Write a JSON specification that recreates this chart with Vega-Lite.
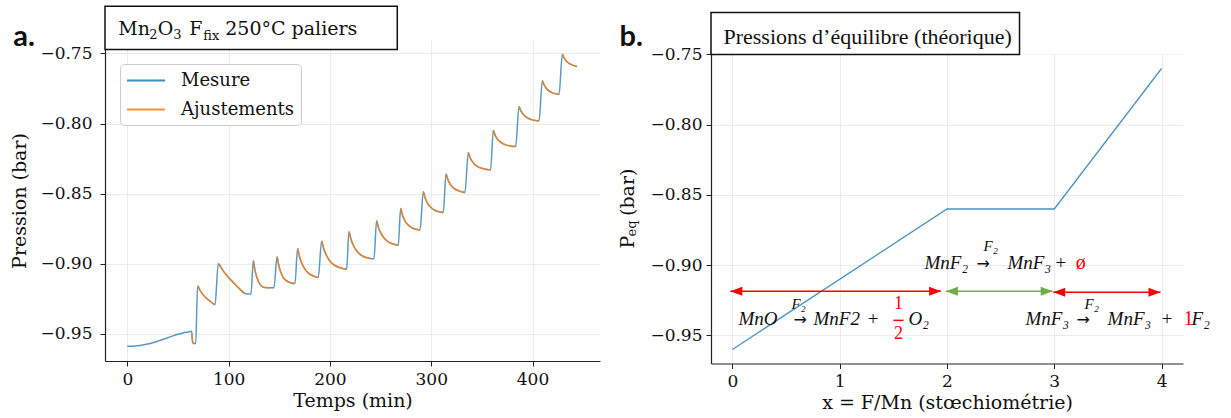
{
  "$schema": "https://vega.github.io/schema/vega-lite/v6.json",
  "background": "white",
  "padding": {"left": 10, "top": 5, "right": 5, "bottom": 5},
  "autosize": {"type": "pad"},
  "spacing": 18,
  "resolve": {"scale": {"x": "independent", "y": "independent", "color": "independent"}, "legend": {"color": "independent"}},
  "datasets": {
    "un": [{}],
    "mesure": [
      {"t":0,"p":-0.9588},{"t":5,"p":-0.9587},{"t":10,"p":-0.9584},{"t":15,"p":-0.9579},{"t":20,"p":-0.9572},{"t":25,"p":-0.9563},{"t":30,"p":-0.9552},{"t":35,"p":-0.954},{"t":40,"p":-0.9527},{"t":45,"p":-0.9514},{"t":50,"p":-0.9502},{"t":55,"p":-0.9493},{"t":60,"p":-0.9486},{"t":63.5,"p":-0.9481},{"t":64.5,"p":-0.9555},{"t":65.5,"p":-0.9569},{"t":67.5,"p":-0.9568},
      {"t":69.4,"p":-0.9159},{"t":72.4,"p":-0.9196},{"t":75.4,"p":-0.9225},{"t":78.4,"p":-0.9247},{"t":81.4,"p":-0.9265},{"t":86.6,"p":-0.9291},
      {"t":89.8,"p":-0.9},{"t":95,"p":-0.9054},{"t":100,"p":-0.9097},{"t":105,"p":-0.9136},{"t":110,"p":-0.9173},{"t":116.2,"p":-0.9212},{"t":122.1,"p":-0.9216},
      {"t":124.4,"p":-0.8979},{"t":126,"p":-0.9045},{"t":128,"p":-0.9098},{"t":130,"p":-0.9135},{"t":132.6,"p":-0.916},{"t":136,"p":-0.9169},{"t":144.8,"p":-0.9171},
      {"t":147.8,"p":-0.895},{"t":149.5,"p":-0.901},{"t":151.5,"p":-0.906},{"t":154,"p":-0.9098},{"t":157,"p":-0.912},{"t":161,"p":-0.9135},{"t":165.5,"p":-0.9141},
      {"t":168.1,"p":-0.8891},{"t":170,"p":-0.895},{"t":172.5,"p":-0.9},{"t":175.5,"p":-0.904},{"t":179,"p":-0.9068},{"t":183.5,"p":-0.9086},{"t":188.5,"p":-0.9098},
      {"t":191.8,"p":-0.8838},{"t":194,"p":-0.8895},{"t":197,"p":-0.8945},{"t":200.5,"p":-0.8985},{"t":205,"p":-0.9012},{"t":210,"p":-0.9028},{"t":216.5,"p":-0.9038},
      {"t":218.8,"p":-0.8771},{"t":221,"p":-0.883},{"t":224,"p":-0.888},{"t":227.5,"p":-0.8918},{"t":231.5,"p":-0.8942},{"t":235.5,"p":-0.8955},{"t":239.6,"p":-0.8962},{"t":243.5,"p":-0.8964},
      {"t":246.1,"p":-0.8693},{"t":248,"p":-0.8745},{"t":251,"p":-0.879},{"t":254.5,"p":-0.8825},{"t":258.5,"p":-0.8847},{"t":263,"p":-0.886},{"t":267.5,"p":-0.8867},
      {"t":269.8,"p":-0.8605},{"t":271.5,"p":-0.865},{"t":274,"p":-0.8693},{"t":277.5,"p":-0.8725},{"t":281.5,"p":-0.8745},{"t":285,"p":-0.8754},{"t":288.9,"p":-0.8759},
      {"t":292.2,"p":-0.8486},{"t":294,"p":-0.853},{"t":296.5,"p":-0.857},{"t":300,"p":-0.86},{"t":304,"p":-0.862},{"t":308,"p":-0.8629},{"t":311.9,"p":-0.8634},
      {"t":314.6,"p":-0.8359},{"t":316.5,"p":-0.84},{"t":319,"p":-0.8435},{"t":322.5,"p":-0.8462},{"t":326.5,"p":-0.8478},{"t":330,"p":-0.8486},{"t":333.3,"p":-0.8491},
      {"t":336.6,"p":-0.8207},{"t":338.5,"p":-0.8245},{"t":341.5,"p":-0.828},{"t":345,"p":-0.8303},{"t":349,"p":-0.8317},{"t":353.5,"p":-0.8325},{"t":358.6,"p":-0.8329},
      {"t":361.3,"p":-0.8048},{"t":363,"p":-0.8082},{"t":366,"p":-0.8115},{"t":369.5,"p":-0.8138},{"t":373.5,"p":-0.8152},{"t":378,"p":-0.816},{"t":383.3,"p":-0.8164},
      {"t":386.7,"p":-0.7879},{"t":388.5,"p":-0.791},{"t":391.5,"p":-0.794},{"t":395,"p":-0.796},{"t":399,"p":-0.7972},{"t":403,"p":-0.7978},{"t":406.4,"p":-0.7981},
      {"t":409.7,"p":-0.7695},{"t":411.5,"p":-0.7725},{"t":414,"p":-0.7752},{"t":417,"p":-0.7771},{"t":420.5,"p":-0.7783},{"t":424,"p":-0.7789},{"t":426.2,"p":-0.7791},
      {"t":429.4,"p":-0.7505},{"t":431,"p":-0.753},{"t":433.5,"p":-0.7555},{"t":436.5,"p":-0.7573},{"t":440,"p":-0.7585},{"t":443.9,"p":-0.7593}
    ],
    "ajust": [
      {"k":0,"t":63.6,"p":-0.9495},{"k":0,"t":64.6,"p":-0.956},{"k":0,"t":65.8,"p":-0.957},
      {"k":1,"t":69.4,"p":-0.9159},{"k":1,"t":72.4,"p":-0.9196},{"k":1,"t":75.4,"p":-0.9225},{"k":1,"t":78.4,"p":-0.9247},{"k":1,"t":81.4,"p":-0.9265},{"k":1,"t":86.6,"p":-0.9291},
      {"k":2,"t":89.8,"p":-0.9},{"k":2,"t":95,"p":-0.9054},{"k":2,"t":100,"p":-0.9097},{"k":2,"t":105,"p":-0.9136},{"k":2,"t":110,"p":-0.9173},{"k":2,"t":116.2,"p":-0.9212},
      {"k":3,"t":124.4,"p":-0.8979},{"k":3,"t":126,"p":-0.9045},{"k":3,"t":128,"p":-0.9098},{"k":3,"t":130,"p":-0.9135},{"k":3,"t":132.6,"p":-0.916},{"k":3,"t":136,"p":-0.9169},{"k":3,"t":141,"p":-0.9171},
      {"k":4,"t":147.8,"p":-0.895},{"k":4,"t":149.5,"p":-0.901},{"k":4,"t":151.5,"p":-0.906},{"k":4,"t":154,"p":-0.9098},{"k":4,"t":157,"p":-0.912},{"k":4,"t":161,"p":-0.9135},{"k":4,"t":165,"p":-0.9141},
      {"k":5,"t":168.1,"p":-0.8891},{"k":5,"t":170,"p":-0.895},{"k":5,"t":172.5,"p":-0.9},{"k":5,"t":175.5,"p":-0.904},{"k":5,"t":179,"p":-0.9068},{"k":5,"t":183.5,"p":-0.9086},{"k":5,"t":188.5,"p":-0.9098},
      {"k":6,"t":191.8,"p":-0.8838},{"k":6,"t":194,"p":-0.8895},{"k":6,"t":197,"p":-0.8945},{"k":6,"t":200.5,"p":-0.8985},{"k":6,"t":205,"p":-0.9012},{"k":6,"t":210,"p":-0.9028},{"k":6,"t":216,"p":-0.9038},
      {"k":7,"t":218.8,"p":-0.8771},{"k":7,"t":221,"p":-0.883},{"k":7,"t":224,"p":-0.888},{"k":7,"t":227.5,"p":-0.8918},{"k":7,"t":231.5,"p":-0.8942},{"k":7,"t":235.5,"p":-0.8955},{"k":7,"t":239.6,"p":-0.8962},
      {"k":8,"t":246.1,"p":-0.8693},{"k":8,"t":248,"p":-0.8745},{"k":8,"t":251,"p":-0.879},{"k":8,"t":254.5,"p":-0.8825},{"k":8,"t":258.5,"p":-0.8847},{"k":8,"t":263,"p":-0.886},{"k":8,"t":267.5,"p":-0.8867},
      {"k":9,"t":269.8,"p":-0.8605},{"k":9,"t":271.5,"p":-0.865},{"k":9,"t":274,"p":-0.8693},{"k":9,"t":277.5,"p":-0.8725},{"k":9,"t":281.5,"p":-0.8745},{"k":9,"t":285,"p":-0.8754},{"k":9,"t":288.9,"p":-0.8759},
      {"k":10,"t":292.2,"p":-0.8486},{"k":10,"t":294,"p":-0.853},{"k":10,"t":296.5,"p":-0.857},{"k":10,"t":300,"p":-0.86},{"k":10,"t":304,"p":-0.862},{"k":10,"t":308,"p":-0.8629},{"k":10,"t":311.9,"p":-0.8634},
      {"k":11,"t":314.6,"p":-0.8359},{"k":11,"t":316.5,"p":-0.84},{"k":11,"t":319,"p":-0.8435},{"k":11,"t":322.5,"p":-0.8462},{"k":11,"t":326.5,"p":-0.8478},{"k":11,"t":330,"p":-0.8486},{"k":11,"t":333.3,"p":-0.8491},
      {"k":12,"t":336.6,"p":-0.8207},{"k":12,"t":338.5,"p":-0.8245},{"k":12,"t":341.5,"p":-0.828},{"k":12,"t":345,"p":-0.8303},{"k":12,"t":349,"p":-0.8317},{"k":12,"t":353.5,"p":-0.8325},{"k":12,"t":358.6,"p":-0.8329},
      {"k":13,"t":361.3,"p":-0.8048},{"k":13,"t":363,"p":-0.8082},{"k":13,"t":366,"p":-0.8115},{"k":13,"t":369.5,"p":-0.8138},{"k":13,"t":373.5,"p":-0.8152},{"k":13,"t":378,"p":-0.816},{"k":13,"t":383.3,"p":-0.8164},
      {"k":14,"t":386.7,"p":-0.7879},{"k":14,"t":388.5,"p":-0.791},{"k":14,"t":391.5,"p":-0.794},{"k":14,"t":395,"p":-0.796},{"k":14,"t":399,"p":-0.7972},{"k":14,"t":403,"p":-0.7978},{"k":14,"t":406.4,"p":-0.7981},
      {"k":15,"t":409.7,"p":-0.7695},{"k":15,"t":411.5,"p":-0.7725},{"k":15,"t":414,"p":-0.7752},{"k":15,"t":417,"p":-0.7771},{"k":15,"t":420.5,"p":-0.7783},{"k":15,"t":424,"p":-0.7789},{"k":15,"t":426.2,"p":-0.7791},
      {"k":16,"t":429.4,"p":-0.7505},{"k":16,"t":431,"p":-0.753},{"k":16,"t":433.5,"p":-0.7555},{"k":16,"t":436.5,"p":-0.7573},{"k":16,"t":440,"p":-0.7585},{"k":16,"t":443.9,"p":-0.7593}
    ],
    "titreGrand": [
      {"x":-8.9,"y":-0.7371,"txt":"Mn"},
      {"x":30.1,"y":-0.7371,"txt":"O"},
      {"x":61.2,"y":-0.7371,"txt":"F"},
      {"x":96.7,"y":-0.7371,"txt":"250°C paliers"}
    ],
    "titrePetit": [
      {"x":21.7,"y":-0.7398,"txt":"2"},
      {"x":45.4,"y":-0.7398,"txt":"3"},
      {"x":75,"y":-0.7405,"txt":"fix"}
    ],
    "theorie": [
      {"x":0,"p":-0.96},{"x":2,"p":-0.86},{"x":3,"p":-0.86},{"x":4,"p":-0.76}
    ],
    "fleches": [
      {"etape":"MnO","a":-0.02,"b":1.945,"y":-0.9186},
      {"etape":"MnF2","a":1.99,"b":2.985,"y":-0.9186},
      {"etape":"MnF3","a":2.99,"b":3.99,"y":-0.9192}
    ],
    "eqNoir": [
      {"x":0.056,"y":-0.9429,"txt":"MnO"},
      {"x":0.755,"y":-0.9429,"txt":"MnF2"},
      {"x":1.249,"y":-0.9429,"txt":"+"},
      {"x":1.641,"y":-0.9429,"txt":"O₂"},
      {"x":1.79,"y":-0.903,"txt":"MnF₂"},
      {"x":2.564,"y":-0.903,"txt":"MnF₃"},
      {"x":3.0,"y":-0.903,"txt":"+"},
      {"x":2.732,"y":-0.9429,"txt":"MnF₃"},
      {"x":3.497,"y":-0.9429,"txt":"MnF₃"},
      {"x":3.991,"y":-0.9429,"txt":"+"},
      {"x":4.28,"y":-0.9429,"txt":"F₂"}
    ],
    "reactionFleche": [
      {"x":0.569,"y":-0.9429,"txt":"→"},
      {"x":2.275,"y":-0.903,"txt":"→"},
      {"x":3.207,"y":-0.9429,"txt":"→"}
    ],
    "eqPetit": [
      {"x":0.55,"y":-0.9315,"txt":"F₂"},
      {"x":2.34,"y":-0.8902,"txt":"F₂"},
      {"x":3.282,"y":-0.9315,"txt":"F₂"}
    ],
    "eqRouge": [
      {"x":3.2,"y":-0.903,"txt":"ø"},
      {"x":4.205,"y":-0.9429,"txt":"1"}
    ],
    "fraction": [
      {"x":1.548,"y":-0.9315,"txt":"1"},
      {"x":1.548,"y":-0.9528,"txt":"2"}
    ]
  },
  "config": {
    "font": "DejaVu Serif",
    "view": {"stroke": null},
    "axis": {
      "domainColor": "#222222",
      "domainWidth": 1.2,
      "tickColor": "#222222",
      "tickSize": 5,
      "tickWidth": 1,
      "gridColor": "#e6e6e6",
      "gridWidth": 0.8,
      "labelFont": "DejaVu Serif",
      "labelFontSize": 17,
      "labelColor": "#111111",
      "titleFont": "DejaVu Serif",
      "titleFontSize": 19,
      "titleFontWeight": "normal",
      "titleColor": "#111111",
      "labelPadding": 4
    },
    "text": {"font": "DejaVu Serif", "color": "#111111"}
  },
  "hconcat": [
    {
      "width": 495,
      "height": 321,
      "layer": [
        {
          "data": {"name": "mesure"},
          "mark": {"type": "line", "strokeWidth": 1.5, "opacity": 0.75, "interpolate": "monotone"},
          "encoding": {
            "x": {"field": "t", "type": "quantitative", "scale": {"domain": [-22, 466.6], "nice": false, "zero": false},
                  "axis": {"values": [0, 100, 200, 300, 400], "title": "Temps (min)", "labelPadding": 5, "titlePadding": 4}},
            "y": {"field": "p", "type": "quantitative", "scale": {"domain": [-0.9693, -0.7404], "nice": false, "zero": false},
                  "axis": {"values": [-0.95, -0.9, -0.85, -0.8, -0.75], "format": ".2f", "title": "Pression (bar)", "labelPadding": 8, "titlePadding": 10}},
            "color": {"datum": "Mesure", "type": "nominal",
                      "scale": {"domain": ["Mesure", "Ajustements"], "range": ["#1f77b4", "#ff7f0e"]},
                      "legend": {"title": null, "orient": "none", "legendX": 15, "legendY": 24, "symbolType": "M-1,0H3", "symbolSize": 361, "symbolStrokeWidth": 2, "symbolOpacity": 1, "labelFont": "DejaVu Serif", "labelFontSize": 18, "labelColor": "#111111", "labelOffset": 34, "rowPadding": 9, "padding": 6, "fillColor": "white", "strokeColor": "#cccccc", "cornerRadius": 4}}
          }
        },
        {
          "data": {"name": "ajust"},
          "mark": {"type": "line", "strokeWidth": 1.5, "opacity": 0.85, "interpolate": "monotone"},
          "encoding": {
            "x": {"field": "t", "type": "quantitative"},
            "y": {"field": "p", "type": "quantitative"},
            "detail": {"field": "k", "type": "nominal"},
            "color": {"datum": "Ajustements", "type": "nominal"}
          }
        },
        {
          "data": {"name": "un"},
          "mark": {"type": "rect", "fill": "white", "stroke": "#111111", "strokeWidth": 1.5},
          "encoding": {
            "x": {"datum": -22}, "x2": {"datum": 266.5},
            "y": {"datum": -0.7471}, "y2": {"datum": -0.7164}
          }
        },
        {
          "data": {"name": "titreGrand"},
          "mark": {"type": "text", "align": "left", "baseline": "alphabetic", "fontSize": 19},
          "encoding": {"x": {"field": "x", "type": "quantitative"}, "y": {"field": "y", "type": "quantitative"}, "text": {"field": "txt"}}
        },
        {
          "data": {"name": "titrePetit"},
          "mark": {"type": "text", "align": "left", "baseline": "alphabetic", "fontSize": 13},
          "encoding": {"x": {"field": "x", "type": "quantitative"}, "y": {"field": "y", "type": "quantitative"}, "text": {"field": "txt"}}
        },
        {
          "data": {"name": "un"},
          "mark": {"type": "text", "text": "a.", "align": "left", "baseline": "alphabetic", "font": "Lato", "fontWeight": "bold", "fontSize": 29},
          "encoding": {"x": {"datum": -112.5}, "y": {"datum": -0.745}}
        }
      ]
    },
    {
      "width": 472,
      "height": 323.5,
      "layer": [
        {
          "data": {"name": "theorie"},
          "mark": {"type": "line", "strokeWidth": 1.3, "color": "#1f77b4", "opacity": 0.8},
          "encoding": {
            "x": {"field": "x", "type": "quantitative", "scale": {"domain": [-0.2, 4.2], "nice": false, "zero": false},
                  "axis": {"values": [0, 1, 2, 3, 4], "format": "d", "title": "x = F/Mn (stœchiométrie)", "labelPadding": 5, "titlePadding": 4}},
            "y": {"field": "p", "type": "quantitative", "scale": {"domain": [-0.97, -0.7397], "nice": false, "zero": false},
                  "axis": {"values": [-0.95, -0.9, -0.85, -0.8, -0.75], "format": ".2f", "title": null, "labelPadding": 4}}
          }
        },
        {
          "data": {"name": "un"},
          "mark": {"type": "rect", "fill": "white", "strokeWidth": 0},
          "encoding": {
            "x": {"datum": -0.2}, "x2": {"datum": 4.2},
            "y": {"datum": -0.75}, "y2": {"datum": -0.7397}
          }
        },
        {
          "data": {"name": "un"},
          "mark": {"type": "rect", "fill": "white", "stroke": "#111111", "strokeWidth": 1.5},
          "encoding": {
            "x": {"datum": -0.2}, "x2": {"datum": 2.676},
            "y": {"datum": -0.75}, "y2": {"datum": -0.7201}
          }
        },
        {
          "data": {"name": "un"},
          "mark": {"type": "text", "text": "Pressions d’équilibre (théorique)", "align": "left", "baseline": "alphabetic", "font": "Liberation Serif", "fontSize": 22},
          "encoding": {"x": {"datum": -0.084}, "y": {"datum": -0.7422}}
        },
        {
          "data": {"name": "un"},
          "mark": {"type": "text", "text": "b.", "align": "left", "baseline": "alphabetic", "font": "Lato", "fontWeight": "bold", "fontSize": 29},
          "encoding": {"x": {"datum": -1.053}, "y": {"datum": -0.7443}}
        },
        {
          "data": {"name": "un"},
          "mark": {"type": "text", "text": "P", "angle": 270, "align": "left", "baseline": "alphabetic", "fontSize": 19},
          "encoding": {"x": {"datum": -0.918}, "y": {"datum": -0.8881}}
        },
        {
          "data": {"name": "un"},
          "mark": {"type": "text", "text": "eq", "angle": 270, "align": "left", "baseline": "alphabetic", "fontSize": 13},
          "encoding": {"x": {"datum": -0.895}, "y": {"datum": -0.8796}}
        },
        {
          "data": {"name": "un"},
          "mark": {"type": "text", "text": "(bar)", "angle": 270, "align": "left", "baseline": "alphabetic", "fontSize": 19},
          "encoding": {"x": {"datum": -0.918}, "y": {"datum": -0.865}}
        },
        {
          "data": {"name": "fleches"},
          "mark": {"type": "rule", "strokeWidth": 1.5},
          "encoding": {
            "x": {"field": "a", "type": "quantitative"},
            "x2": {"field": "b"},
            "y": {"field": "y", "type": "quantitative"},
            "color": {"field": "etape", "type": "nominal", "scale": {"domain": ["MnO", "MnF2", "MnF3"], "range": ["#ff0000", "#70ad47", "#ff0000"]}, "legend": null}
          }
        },
        {
          "data": {"name": "fleches"},
          "mark": {"type": "point", "filled": true, "opacity": 1, "size": 144, "shape": "M0,0L2,-0.75L2,0.75Z"},
          "encoding": {
            "x": {"field": "a", "type": "quantitative"},
            "y": {"field": "y", "type": "quantitative"},
            "color": {"field": "etape", "type": "nominal", "legend": null}
          }
        },
        {
          "data": {"name": "fleches"},
          "mark": {"type": "point", "filled": true, "opacity": 1, "size": 144, "shape": "M0,0L-2,-0.75L-2,0.75Z"},
          "encoding": {
            "x": {"field": "b", "type": "quantitative"},
            "y": {"field": "y", "type": "quantitative"},
            "color": {"field": "etape", "type": "nominal", "legend": null}
          }
        },
        {
          "data": {"name": "eqNoir"},
          "mark": {"type": "text", "align": "left", "baseline": "alphabetic", "font": "Liberation Serif", "fontStyle": "italic", "fontSize": 19, "color": "#111111"},
          "encoding": {
            "x": {"field": "x", "type": "quantitative"},
            "y": {"field": "y", "type": "quantitative"},
            "text": {"field": "txt"}
          }
        },
        {
          "data": {"name": "reactionFleche"},
          "mark": {"type": "text", "align": "left", "baseline": "alphabetic", "font": "DejaVu Sans", "fontSize": 16, "color": "#111111"},
          "encoding": {
            "x": {"field": "x", "type": "quantitative"},
            "y": {"field": "y", "type": "quantitative"},
            "text": {"field": "txt"}
          }
        },
        {
          "data": {"name": "eqPetit"},
          "mark": {"type": "text", "align": "left", "baseline": "alphabetic", "font": "Liberation Serif", "fontStyle": "italic", "fontSize": 15, "color": "#111111"},
          "encoding": {
            "x": {"field": "x", "type": "quantitative"},
            "y": {"field": "y", "type": "quantitative"},
            "text": {"field": "txt"}
          }
        },
        {
          "data": {"name": "eqRouge"},
          "mark": {"type": "text", "align": "left", "baseline": "alphabetic", "font": "Liberation Serif", "fontSize": 20, "color": "#ff0000"},
          "encoding": {
            "x": {"field": "x", "type": "quantitative"},
            "y": {"field": "y", "type": "quantitative"},
            "text": {"field": "txt"}
          }
        },
        {
          "data": {"name": "fraction"},
          "mark": {"type": "text", "align": "center", "baseline": "alphabetic", "font": "Liberation Serif", "fontSize": 18, "color": "#ff0000"},
          "encoding": {
            "x": {"field": "x", "type": "quantitative"},
            "y": {"field": "y", "type": "quantitative"},
            "text": {"field": "txt"}
          }
        },
        {
          "data": {"name": "un"},
          "mark": {"type": "rule", "color": "#ff0000", "strokeWidth": 1.5},
          "encoding": {"x": {"datum": 1.5}, "x2": {"datum": 1.595}, "y": {"datum": -0.9393}}
        }
      ]
    }
  ]
}
